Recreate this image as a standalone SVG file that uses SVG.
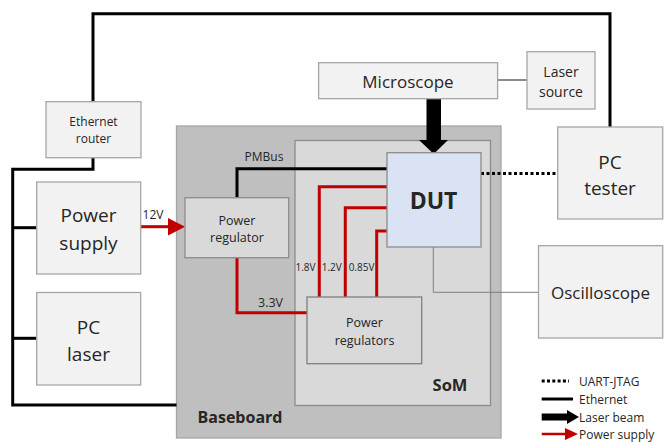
<svg xmlns="http://www.w3.org/2000/svg" width="665" height="442" viewBox="0 0 665 442">
<style>
text{font-family:"Open Sans","Liberation Sans",sans-serif;fill:#262626;text-anchor:middle;dominant-baseline:central}
.box{fill:#f2f2f2;stroke:#a6a6a6;stroke-width:1.3}
.eth{fill:none;stroke:#000;stroke-width:3}
.pwr{fill:none;stroke:#c00000;stroke-width:3}
.thin{fill:none;stroke:#7f7f7f;stroke-width:1}
.b{font-weight:bold}
.lg{text-anchor:start;font-size:12px}
</style>
<rect width="665" height="442" fill="#fff"/>
<g id="baseboard">
<rect x="176.5" y="126" width="324.5" height="312" fill="#bfbfbf" stroke="#a6a6a6" stroke-width="1.3"/>
<text x="240" y="417" class="b" font-size="16">Baseboard</text>
</g>
<g id="som">
<rect x="295" y="140.5" width="195.5" height="265" fill="#d9d9d9" stroke="#8c8c8c" stroke-width="1.3"/>
<text x="450" y="384" class="b" font-size="16.5">SoM</text>
</g>
<g id="connectors">
<polyline class="eth" points="93,102 93,13.7 610,13.7 610,127"/>
<polyline class="eth" points="93,158 93,169.3 12.7,169.3 12.7,405 176.5,405"/>
<line class="eth" x1="12.7" y1="227.7" x2="36.7" y2="227.7"/>
<line class="eth" x1="12.7" y1="338.3" x2="36.7" y2="338.3"/>
<polyline class="eth" points="237,198 237,168.7 387,168.7"/>
<line x1="481" y1="173.5" x2="557" y2="173.5" stroke="#000" stroke-width="3" stroke-dasharray="3 2.5"/>
<line x1="498" y1="80" x2="527" y2="80" stroke="#8c8c8c" stroke-width="2"/>
<polyline class="thin" points="433.3,247 433.3,292.3 538,292.3"/>
<line class="pwr" x1="140.7" y1="226.7" x2="169" y2="226.7"/>
<polygon points="168,218 168,235.5 185,226.7" fill="#c00000"/>
<polyline class="pwr" points="237,258 237,312.7 307,312.7"/>
<polyline class="pwr" points="319.3,297 319.3,186.7 387,186.7"/>
<polyline class="pwr" points="345.3,297 345.3,207.7 387,207.7"/>
<polyline class="pwr" points="376.7,297 376.7,231 387,231"/>
<rect x="426.5" y="99" width="14.5" height="42" fill="#000"/>
<polygon points="419,140 448,140 433.7,154" fill="#000"/>
<text x="153" y="214" font-size="12">12V</text>
<text x="264" y="156" font-size="12">PMBus</text>
<text x="270.5" y="302" font-size="12.5">3.3V</text>
<text x="305.5" y="266.7" font-size="10">1.8V</text>
<text x="331.7" y="266.7" font-size="10">1.2V</text>
<text x="361.5" y="266.7" font-size="10">0.85V</text>
</g>
<g id="ethernet-router">
<rect class="box" x="46" y="101.7" width="95" height="56"/>
<text x="93.5" y="121" font-size="12">Ethernet</text>
<text x="93.5" y="138" font-size="12">router</text>
</g>
<g id="power-supply">
<rect class="box" x="36.7" y="182" width="104" height="92"/>
<text x="88.5" y="215" font-size="19">Power</text>
<text x="88.5" y="242.5" font-size="19">supply</text>
</g>
<g id="pc-laser">
<rect class="box" x="36.7" y="292.5" width="104" height="92.5"/>
<text x="88.5" y="326.5" font-size="19">PC</text>
<text x="88.5" y="353.5" font-size="19">laser</text>
</g>
<g id="microscope">
<rect class="box" x="318.6" y="62.7" width="179" height="36"/>
<text x="408" y="81.5" font-size="17">Microscope</text>
</g>
<g id="laser-source">
<rect class="box" x="527" y="51.7" width="68" height="57.3"/>
<text x="561" y="71.7" font-size="14">Laser</text>
<text x="561" y="91.5" font-size="14">source</text>
</g>
<g id="pc-tester">
<rect class="box" x="557.7" y="127" width="105" height="92"/>
<text x="610" y="161.5" font-size="19">PC</text>
<text x="610" y="188" font-size="19">tester</text>
</g>
<g id="oscilloscope">
<rect class="box" x="538.5" y="245.7" width="124.2" height="92.3"/>
<text x="600.5" y="292.5" font-size="17">Oscilloscope</text>
</g>
<g id="power-regulator">
<rect x="185" y="197.7" width="103.7" height="60" fill="#d9d9d9" stroke="#8c8c8c" stroke-width="1.3"/>
<text x="237" y="220" font-size="12.5">Power</text>
<text x="237" y="237.5" font-size="12.5">regulator</text>
</g>
<g id="power-regulators">
<rect x="307" y="297" width="114.7" height="66.7" fill="#d9d9d9" stroke="#7f7f7f" stroke-width="1.3"/>
<text x="364.5" y="322" font-size="12.5">Power</text>
<text x="364.5" y="340" font-size="12.5">regulators</text>
</g>
<g id="dut">
<rect x="387" y="152.7" width="94" height="94.3" fill="#dae3f3" stroke="#8c8c8c" stroke-width="1.3"/>
<text x="433.5" y="200" class="b" font-size="23">DUT</text>
</g>
<g id="legend">
<line x1="541.7" y1="381" x2="569" y2="381" stroke="#000" stroke-width="3" stroke-dasharray="3 2.3"/>
<text x="579" y="381" class="lg">UART-JTAG</text>
<line x1="541.7" y1="399" x2="573" y2="399" stroke="#000" stroke-width="3"/>
<text x="579" y="399" class="lg">Ethernet</text>
<rect x="541.7" y="413.5" width="26" height="7" fill="#000"/>
<polygon points="567,410 567,424 579,417" fill="#000"/>
<text x="579" y="417" class="lg">Laser beam</text>
<line x1="541.7" y1="434" x2="566" y2="434" stroke="#c00000" stroke-width="2.5"/>
<polygon points="565,428 565,440 578,434" fill="#c00000"/>
<text x="579" y="434" class="lg">Power supply</text>
</g>
</svg>
